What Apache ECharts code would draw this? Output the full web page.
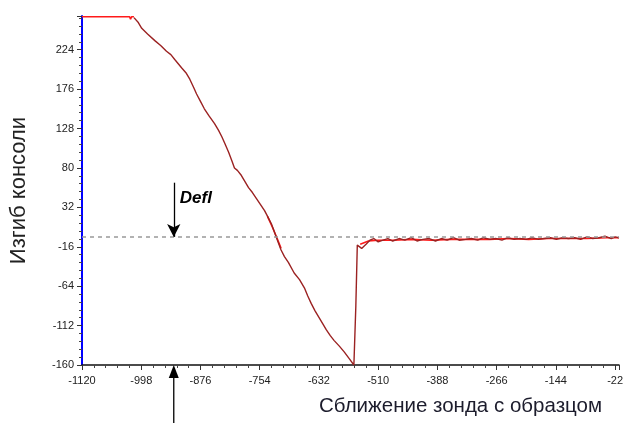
<!DOCTYPE html>
<html>
<head>
<meta charset="utf-8">
<script src="https://cdn.jsdelivr.net/npm/echarts@6/dist/echarts.min.js"></script>
<style>
  html, body { margin: 0; padding: 0; background: #fff; }
  #main { width: 628px; height: 423px; }
</style>
</head>
<body>
<div id="main"></div>
<script>
// Изгиб консоли vs Сближение зонда с образцом
var xMin = -1120, xMax = -14, xStep = 122;
var yMin = -160, yMax = 265, yStep = 48;
var zeroLine = -4;      // dashed reference level
var arrowX = -931;      // position of the Defl arrows
var arrowTop = 62;

// approach curve (red): saturated top, then the flat part after snap-off
var approachTop = [[-1120, 264], [-1022, 264], [-1020, 261], [-1018, 264], [-1013, 264]];
var approachMid = [[-738, 21], [-728, 8], [-718, -6], [-710, -18]];
var approachFlat = [
  [-547, -13], [-530, -9], [-510, -8], [-480, -8], [-440, -7], [-400, -8],
  [-360, -7], [-320, -7], [-280, -7], [-240, -6], [-200, -7], [-160, -6],
  [-120, -6], [-80, -6], [-40, -5], [-14, -5]
];

// deflection curve (dark red): slope, jump, wavy flat part
var deflCurve = [
  [-1013, 263], [-1004, 257], [-997, 250], [-985, 243], [-970, 235], [-958, 229],
  [-946, 222], [-937, 218], [-929, 212], [-915, 202], [-906, 196],
  [-898, 188], [-890, 178], [-884, 170], [-876, 161], [-868, 152], [-858, 143],
  [-847, 134], [-839, 126], [-832, 118], [-826, 110], [-818, 99], [-811, 88],
  [-806, 80], [-800, 77], [-792, 71], [-784, 63], [-777, 56], [-769, 50],
  [-761, 43], [-753, 36], [-744, 28], [-737, 20],
  [-730, 12], [-725, 4], [-720, -4], [-710, -20], [-703, -28], [-695, -35],
  [-683, -48], [-672, -56], [-662, -66], [-655, -76],
  [-648, -85], [-640, -94], [-632, -102], [-624, -110], [-617, -117], [-609, -124],
  [-601, -130], [-590, -137], [-580, -144], [-570, -152], [-560, -160],
  [-557, -160], [-556, -88], [-554, -86], [-553, -14], [-544, -18], [-535, -13],
  [-527, -8], [-519, -6], [-510, -10], [-500, -8], [-490, -6], [-480, -9],
  [-467, -6], [-455, -8], [-442, -5], [-430, -9], [-418, -7], [-405, -6],
  [-392, -9], [-380, -6], [-368, -8], [-355, -5], [-343, -8], [-330, -7],
  [-318, -6], [-305, -8], [-293, -5], [-280, -7], [-268, -6], [-255, -8],
  [-243, -5], [-230, -7], [-218, -6], [-205, -7], [-193, -5], [-180, -7],
  [-168, -6], [-155, -5], [-143, -7], [-130, -5], [-118, -6], [-105, -5],
  [-93, -7], [-80, -4], [-68, -6], [-55, -5], [-43, -3], [-30, -6], [-22, -4], [-14, -5]
];

var approachData = approachTop.concat([null], approachMid, [null], approachFlat);

var labelFont = { fontFamily: 'Liberation Sans Narrow, Arial, sans-serif', fontSize: 11, color: '#222' };

var myChart = echarts.init(document.getElementById('main'));

option = {
  animation: false,
  backgroundColor: '#fff',
  title: {
    text: 'Сближение зонда с образцом',
    left: 319,
    top: 396,
    padding: 0,
    textStyle: { fontFamily: 'Liberation Sans, Arial, sans-serif', fontSize: 20.5, fontWeight: 'normal', color: '#1c1c2c' }
  },
  grid: { left: 80, right: 9, top: 16, bottom: 58 },
  xAxis: {
    type: 'value',
    min: xMin, max: xMax, interval: xStep,
    axisLine: { onZero: false, lineStyle: { color: '#111', width: 1.5 } },
    axisTick: { length: 5, lineStyle: { color: '#333' } },
    minorTick: { show: true, splitNumber: 5, length: 3, lineStyle: { color: '#444' } },
    splitLine: { show: false },
    axisLabel: Object.assign({
      margin: 10, showMaxLabel: false,
      formatter: function (v) { return String(v); }
    }, labelFont)
  },
  yAxis: {
    type: 'value',
    min: yMin, max: yMax, interval: yStep,
    name: 'Изгиб консоли',
    nameLocation: 'middle',
    nameGap: 52,
    nameRotate: 90,
    nameTextStyle: { fontFamily: 'Liberation Sans, Arial, sans-serif', fontSize: 22, color: '#222' },
    axisLine: { show: true, onZero: false, lineStyle: { color: '#0000ff', width: 2 } },
    axisTick: { show: true, length: 5, lineStyle: { color: '#333' } },
    minorTick: { show: true, splitNumber: 5, length: 3, lineStyle: { color: '#444' } },
    splitLine: { show: false },
    axisLabel: Object.assign({ margin: 8, showMaxLabel: false }, labelFont)
  },
  series: [
    {
      name: 'approach',
      type: 'line',
      data: approachData,
      showSymbol: false,
      connectNulls: false,
      lineStyle: { color: '#ff1a1a', width: 1.6 },
      z: 2
    },
    {
      name: 'defl',
      type: 'line',
      data: deflCurve,
      showSymbol: false,
      lineStyle: { color: '#9b2222', width: 1.4 },
      z: 3,
      markLine: {
        silent: true,
        animation: false,
        label: { show: false },
        data: [
          [
            { coord: [xMin, zeroLine], symbol: 'none', lineStyle: { color: '#999', type: [4, 4], width: 1.5 } },
            { coord: [xMax, zeroLine], symbol: 'none' }
          ],
          [
            { coord: [arrowX, arrowTop], symbol: 'none', lineStyle: { color: '#000', type: 'solid', width: 1.3 } },
            { coord: [arrowX, zeroLine], symbol: 'arrow', symbolSize: [10, 13] }
          ]
        ]
      }
    }
  ]
};
myChart.setOption(option);

// up arrow below the x axis and the Defl label
var base = myChart.convertToPixel({ gridIndex: 0 }, [arrowX, yMin]);
var lbl = myChart.convertToPixel({ gridIndex: 0 }, [arrowX, 43]);
myChart.setOption({
  graphic: [
    {
      type: 'line',
      shape: { x1: base[0], y1: base[1] + 58, x2: base[0], y2: base[1] + 10 },
      style: { stroke: '#000', lineWidth: 1.3 }
    },
    {
      type: 'polygon',
      shape: { points: [[base[0], base[1]], [base[0] - 5, base[1] + 13], [base[0] + 5, base[1] + 13]] },
      style: { fill: '#000' }
    },
    {
      type: 'text',
      x: lbl[0] + 6,
      y: lbl[1],
      style: {
        text: 'Defl',
        fill: '#000',
        font: 'italic bold 17px Liberation Sans, Arial, sans-serif',
        verticalAlign: 'middle'
      }
    }
  ]
});
</script>
</body>
</html>
